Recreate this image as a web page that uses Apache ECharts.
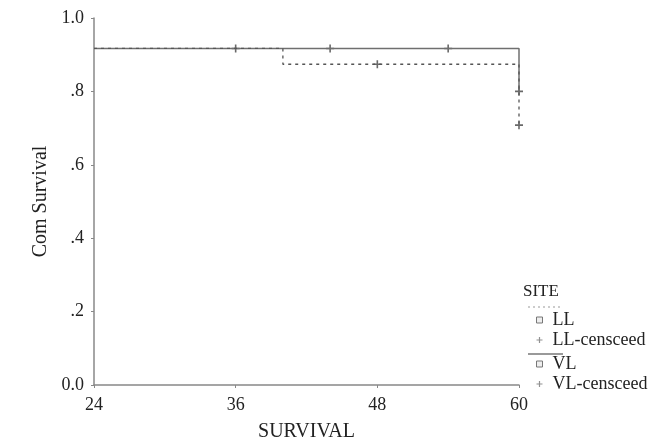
<!DOCTYPE html>
<html>
<head>
<meta charset="utf-8">
<script src="https://cdn.jsdelivr.net/npm/echarts@6/dist/echarts.min.js"></script>
<style>
  html, body { margin: 0; padding: 0; background: #fff; }
  #chartData { width: 654px; height: 447px; }
</style>
</head>
<body>
<div id="chartData"></div>
<script>
// survival curve steps (month, cum survival)
var llSteps = [[24, 0.917], [40, 0.874], [60, 0.708]];
var vlSteps = [[24, 0.917], [60, 0.8]];
// censored points
var llCensored = [[36, 0.917], [48, 0.874], [60, 0.708]];
var vlCensored = [[44, 0.917], [54, 0.917], [60, 0.8]];
var xTicks = [24, 36, 48, 60];
var yTickLabels = {0: '0.0', 0.2: '.2', 0.4: '.4', 0.6: '.6', 0.8: '.8', 1: '1.0'};

var plus = 'path://M4,0H6V4H10V6H6V10H4V6H0V4H4Z';
var serif = '"Liberation Serif", "DejaVu Serif", serif';

var myChart = echarts.init(document.getElementById('chartData'));

var option = {
    backgroundColor: '#fff',
    animation: false,
    grid: { left: 94, right: 135, top: 18, bottom: 55 },
    xAxis: {
        type: 'value',
        min: xTicks[0],
        max: xTicks[xTicks.length - 1],
        interval: 12,
        name: 'SURVIVAL',
        nameLocation: 'middle',
        nameGap: 37,
        nameTextStyle: { fontFamily: serif, fontSize: 20, color: '#222' },
        axisLine: { lineStyle: { color: '#888', width: 1.5 } },
        axisTick: { length: 3, inside: false, lineStyle: { color: '#888' } },
        axisLabel: { fontFamily: serif, fontSize: 18, color: '#222', margin: 11 },
        splitLine: { show: false }
    },
    yAxis: {
        type: 'value',
        min: 0,
        max: 1,
        interval: 0.2,
        name: 'Com Survival',
        nameLocation: 'middle',
        nameGap: 37,
        nameTextStyle: { fontFamily: serif, fontSize: 20, color: '#222' },
        axisLine: { show: true, lineStyle: { color: '#888', width: 1.5 } },
        axisTick: { show: true, length: 3, lineStyle: { color: '#888' } },
        axisLabel: {
            fontFamily: serif, fontSize: 18, color: '#222', margin: 10,
            formatter: function (v) {
                var k = Math.round(v * 10) / 10;
                return yTickLabels[k] !== undefined ? yTickLabels[k] : '';
            }
        },
        splitLine: { show: false }
    },
    legend: [{
        orient: 'vertical',
        left: 536,
        top: 311,
        padding: 0,
        itemWidth: 6,
        itemHeight: 6,
        itemGap: 2,
        textStyle: { fontFamily: serif, fontSize: 18, color: '#222', padding: [0, 0, 0, 5] },
        data: [
            { name: 'LL', icon: 'rect', itemStyle: { color: '#eee', borderColor: '#777', borderWidth: 1 } },
            { name: 'LL-censceed', icon: plus, itemStyle: { color: '#777' } }
        ]
    }, {
        orient: 'vertical',
        left: 536,
        top: 355,
        padding: 0,
        itemWidth: 6,
        itemHeight: 6,
        itemGap: 2,
        textStyle: { fontFamily: serif, fontSize: 18, color: '#222', padding: [0, 0, 0, 5] },
        data: [
            { name: 'VL', icon: 'rect', itemStyle: { color: '#eee', borderColor: '#777', borderWidth: 1 } },
            { name: 'VL-censceed', icon: plus, itemStyle: { color: '#777' } }
        ]
    }],
    graphic: [
        { type: 'text', left: 523, top: 283, style: { text: 'SITE', font: '17px ' + serif, fill: '#222' } },
        { type: 'line', shape: { x1: 528, y1: 307, x2: 560, y2: 307 },
          style: { stroke: '#999', lineWidth: 1.2, lineDash: [2, 3] } },
        { type: 'line', shape: { x1: 528, y1: 354, x2: 563, y2: 354 },
          style: { stroke: '#777', lineWidth: 1.5 } }
    ],
    series: [
        {
            name: 'VL',
            type: 'line',
            step: 'end',
            symbol: 'none',
            lineStyle: { color: '#6f6f6f', width: 1.5, type: 'solid' },
            itemStyle: { color: '#777' },
            data: vlSteps
        },
        {
            name: 'LL',
            type: 'line',
            step: 'end',
            symbol: 'none',
            lineStyle: { color: '#555', width: 1.3, type: [3, 4] },
            itemStyle: { color: '#777' },
            data: llSteps
        },
        {
            name: 'LL-censceed',
            type: 'scatter',
            symbol: plus,
            symbolSize: 8,
            itemStyle: { color: '#444' },
            data: llCensored
        },
        {
            name: 'VL-censceed',
            type: 'scatter',
            symbol: plus,
            symbolSize: 8,
            itemStyle: { color: '#444' },
            data: vlCensored
        }
    ]
};

myChart.setOption(option);
</script>
</body>
</html>
